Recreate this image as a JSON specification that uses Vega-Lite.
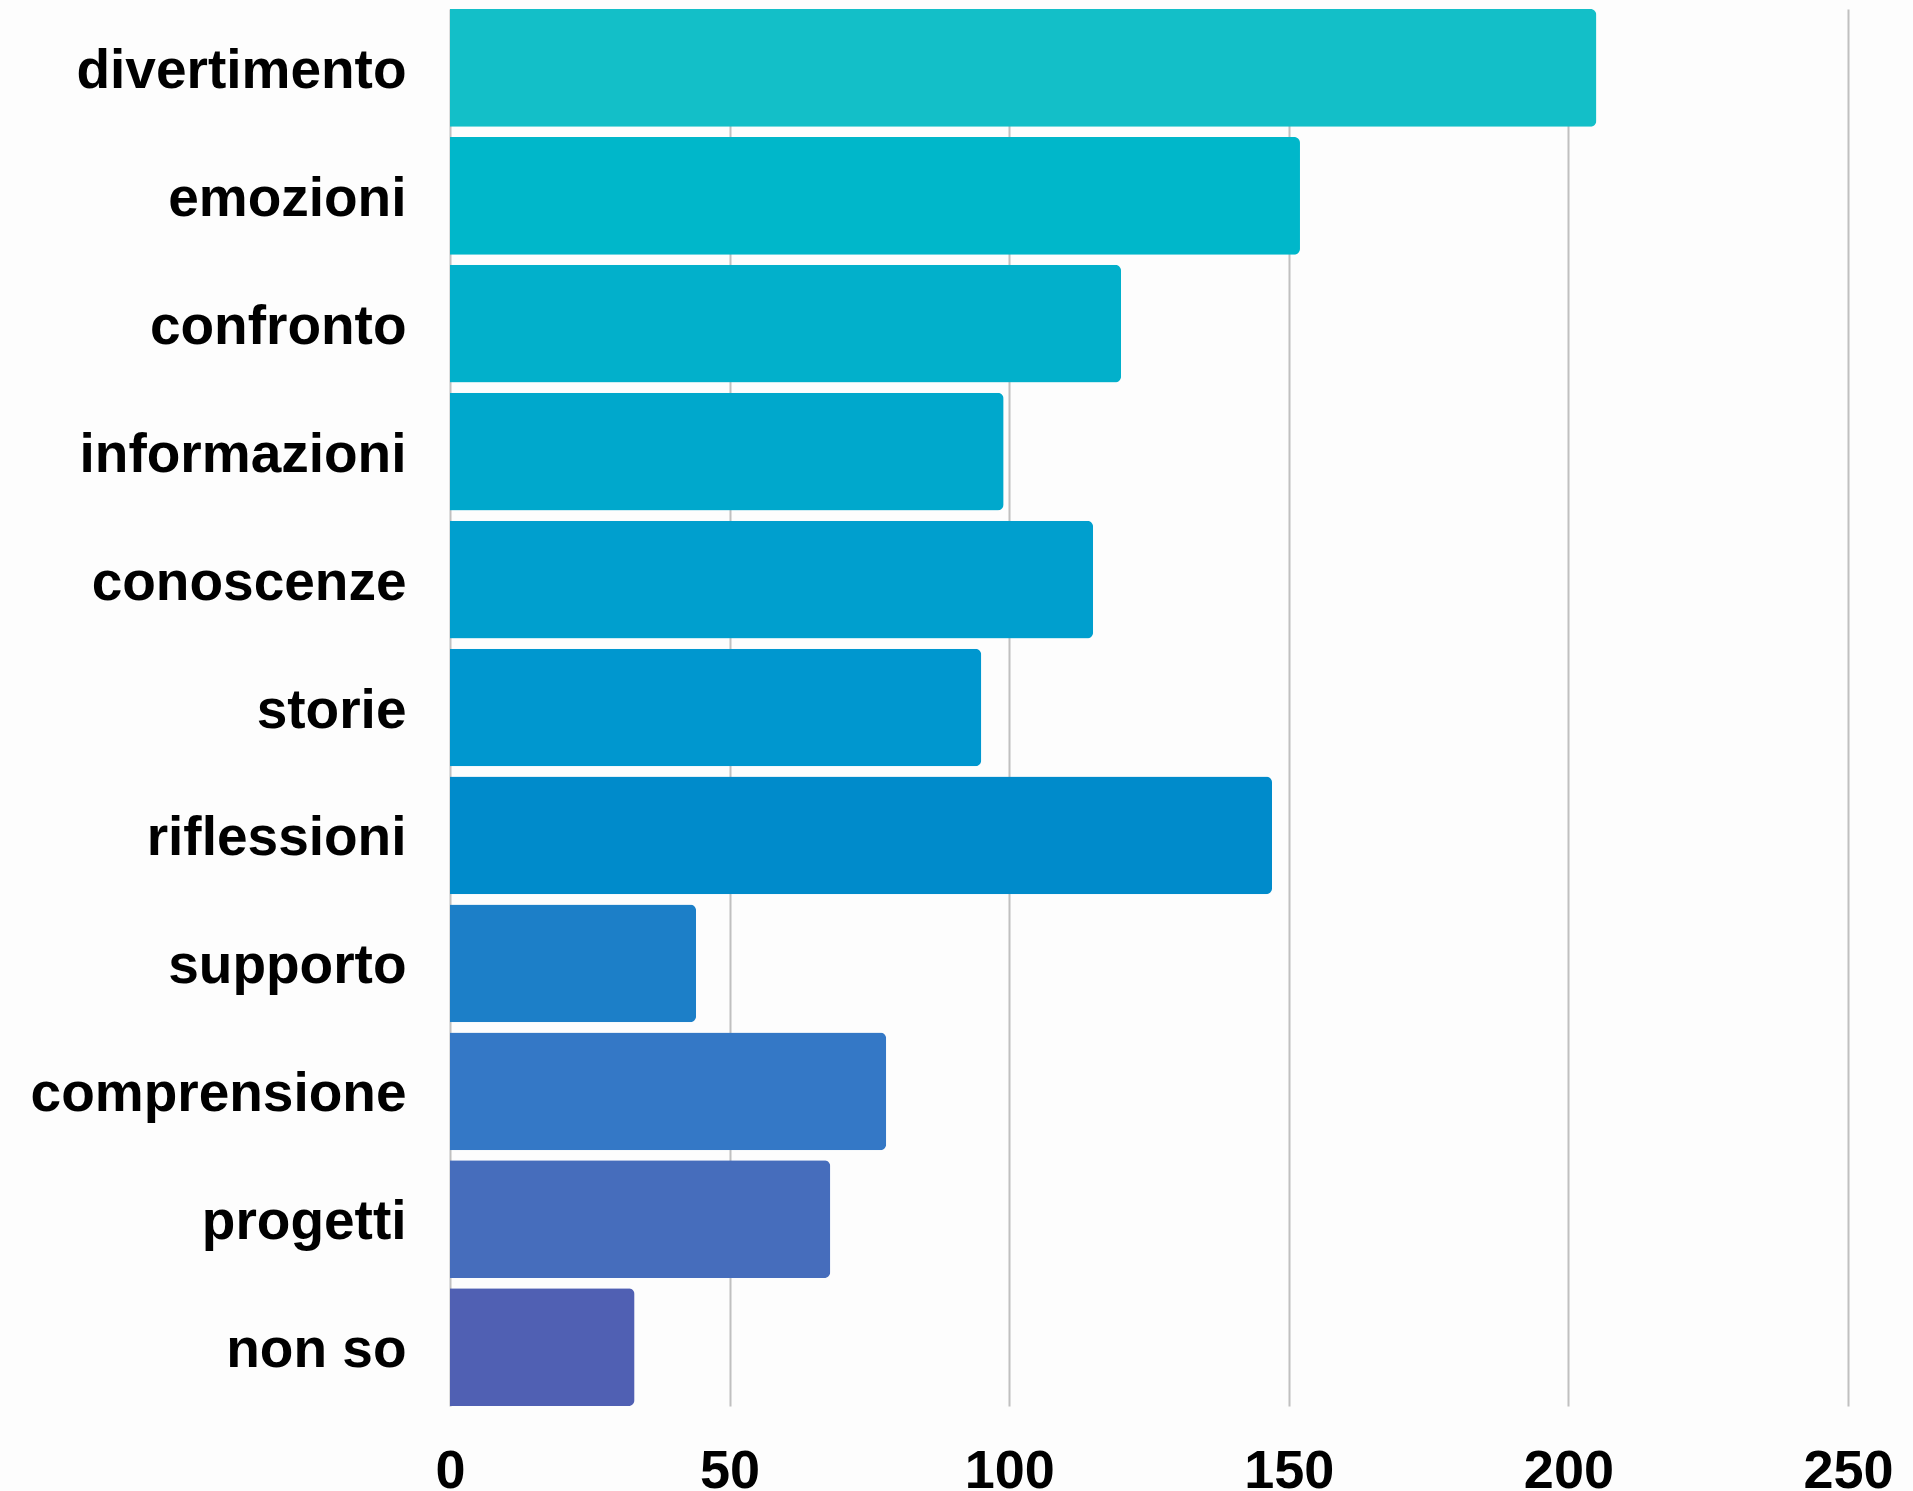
{
  "$schema": "https://vega.github.io/schema/vega-lite/v6.json",
  "autosize": "none",
  "padding": {"left": 450, "top": 9, "right": 65, "bottom": 85},
  "width": 1398,
  "height": 1397,
  "background": "#fdfdfd",
  "data": {
    "values": [
      {"categoria": "divertimento", "valore": 205},
      {"categoria": "emozioni", "valore": 152},
      {"categoria": "confronto", "valore": 120},
      {"categoria": "informazioni", "valore": 99},
      {"categoria": "conoscenze", "valore": 115},
      {"categoria": "storie", "valore": 95},
      {"categoria": "riflessioni", "valore": 147},
      {"categoria": "supporto", "valore": 44},
      {"categoria": "comprensione", "valore": 78},
      {"categoria": "progetti", "valore": 68},
      {"categoria": "non so", "valore": 33}
    ]
  },
  "mark": {"type": "bar", "cornerRadiusEnd": 6},
  "encoding": {
    "y": {
      "field": "categoria",
      "type": "nominal",
      "sort": null,
      "scale": {"paddingInner": 0.08, "paddingOuter": 0},
      "axis": {
        "title": null,
        "domain": false,
        "ticks": false,
        "labelFont": "Liberation Sans",
        "labelFontWeight": "bold",
        "labelFontSize": 55,
        "labelColor": "#000000",
        "labelPadding": 44,
        "labelOffset": 3,
        "labelLimit": 0
      }
    },
    "x": {
      "field": "valore",
      "type": "quantitative",
      "scale": {"domain": [0, 250], "nice": false},
      "axis": {
        "title": null,
        "values": [0, 50, 100, 150, 200, 250],
        "domain": false,
        "ticks": false,
        "grid": true,
        "gridColor": "#c0c0c0",
        "gridWidth": 2,
        "labelFont": "Liberation Sans",
        "labelFontWeight": "bold",
        "labelFontSize": 54,
        "labelColor": "#000000",
        "labelPadding": 38,
        "labelFlush": false,
        "labelOverlap": false
      }
    },
    "color": {
      "field": "categoria",
      "type": "nominal",
      "legend": null,
      "scale": {
        "domain": ["divertimento", "emozioni", "confronto", "informazioni", "conoscenze", "storie", "riflessioni", "supporto", "comprensione", "progetti", "non so"],
        "range": ["#13bfc8", "#00b7ca", "#02b0cb", "#00a8cc", "#009fce", "#0097cf", "#008bcb", "#1c7fc8", "#3478c6", "#466dbc", "#5060b3"]
      }
    }
  },
  "config": {"view": {"stroke": null}}
}
